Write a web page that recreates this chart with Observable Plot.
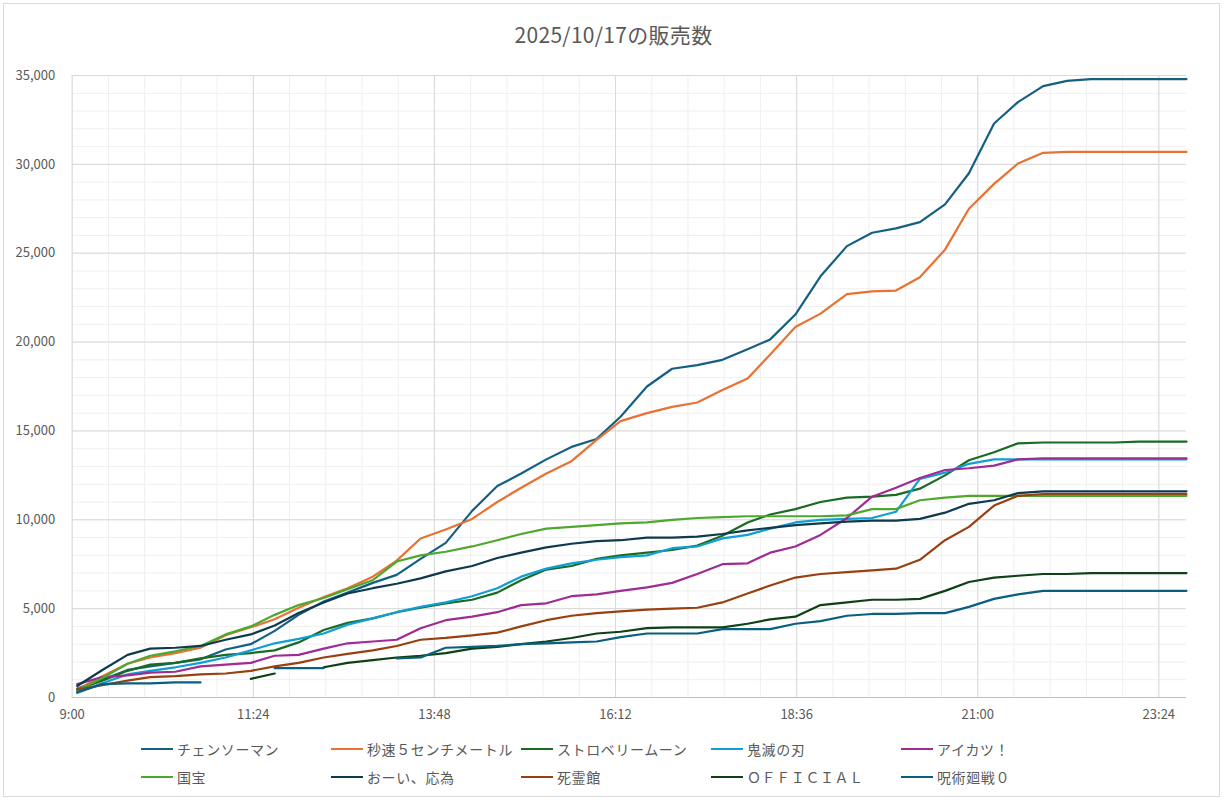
<!DOCTYPE html>
<html>
<head>
<meta charset="utf-8">
<script src="https://cdn.jsdelivr.net/npm/d3@7"></script>
<script src="https://cdn.jsdelivr.net/npm/@observablehq/plot@0.6"></script>
<style>
  body { margin: 0; background: #fff; font-family: "Noto Sans CJK JP", "Noto Sans", sans-serif; }
  #frame { position: relative; width: 1227px; height: 808px; overflow: hidden; background: #fff; }
  #border { position: absolute; left: 3px; top: 3px; width: 1217px; height: 794px; border: 1px solid #d9d9d9; box-sizing: border-box; }
  #title { position: absolute; left: 0; top: 19px; width: 1227px; text-align: center; font-size: 21px; color: #595959; line-height: 30px; letter-spacing: 0.3px; }
  #chart { position: absolute; left: 0; top: 55px; }
  .leg { position: absolute; display: flex; align-items: center; font-size: 14px; color: #595959; white-space: nowrap; height: 20px; letter-spacing: 0.6px; }
  .leg .sw { width: 32px; height: 2px; margin-right: 4px; }
</style>
</head>
<body>
<div id="frame">
  <div id="border"></div>
  <div id="title">2025/10/17の販売数</div>
  <div id="chart"></div>
  <div id="legend"></div>
</div>
<script>
// ---- data ----
const times = ["9:04","9:24","9:44","10:02","10:22","10:42","11:02","11:22","11:41","12:00",
  "12:20","12:39","12:59","13:18","13:37","13:57","14:18","14:38","14:57","15:17",
  "15:37","15:57","16:16","16:37","16:57","17:17","17:37","17:57","18:15","18:35",
  "18:55","19:16","19:36","19:55","20:14","20:34","20:53","21:13","21:32","21:52",
  "22:11","22:30","22:49","23:08","23:27","23:46"];

const seriesNames = ["チェンソーマン","秒速５センチメートル","ストロベリームーン","鬼滅の刃","アイカツ！",
  "国宝","おーい、応為","死霊館","ＯＦＦＩＣＩＡＬ","呪術廻戦０"];

const seriesColors = ["#156082","#E97132","#196B24","#0F9ED5","#A02B93",
  "#4EA72E","#0D3A4E","#994010","#0F4016","#095F80"];

const chainsaw = [500,1000,1550,1750,1950,2150,2700,3000,3750,4650,5400,5900,6450,6900,7800,8700,10500,11900,12600,13400,14100,14550,15800,17500,18500,18700,19000,19600,20150,21550,23700,25400,26150,26400,26750,27750,29500,32300,33500,34400,34700,34800,34800,34800,34800,34800];
const byosoku = [450,1200,1900,2250,2500,2800,3500,3950,4400,5050,5650,6150,6800,7700,8950,9450,10050,11000,11800,12600,13300,14500,15550,16000,16350,16600,17300,17950,19300,20850,21600,22700,22850,22900,23650,25200,27500,28900,30050,30650,30700,30700,30700,30700,30700,30700];
const strawberry = [450,950,1500,1850,1950,2200,2400,2500,2650,3100,3800,4200,4450,4800,5050,5300,5500,5900,6600,7200,7400,7800,8000,8150,8300,8550,9100,9850,10300,10600,11000,11250,11300,11400,11750,12500,13350,13800,14300,14350,14350,14350,14350,14400,14400,14400];
const kimetsu = [250,800,1300,1500,1700,1950,2250,2650,3050,3300,3600,4100,4450,4800,5100,5350,5700,6150,6800,7250,7550,7750,7900,8000,8400,8500,8950,9150,9500,9850,10000,10050,10100,10450,12300,12650,13150,13400,13400,13400,13400,13400,13400,13400,13400,13400];
const aikatsu = [750,1150,1250,1400,1450,1750,1850,1950,2350,2400,2750,3050,3150,3250,3900,4350,4550,4800,5200,5300,5700,5800,6000,6200,6450,6950,7500,7550,8150,8500,9150,10100,11300,11800,12350,12800,12900,13050,13400,13450,13450,13450,13450,13450,13450,13450];
const kokuho = [400,1100,1900,2350,2600,2900,3550,4000,4650,5200,5600,6100,6600,7650,8000,8200,8500,8850,9200,9500,9600,9700,9800,9850,10000,10100,10150,10200,10200,10200,10200,10250,10600,10600,11100,11250,11350,11350,11350,11350,11350,11350,11350,11350,11350,11350];
const oi = [650,1550,2400,2750,2800,2900,3250,3550,4050,4750,5350,5850,6150,6400,6700,7100,7400,7850,8150,8450,8650,8800,8850,9000,9000,9050,9200,9400,9550,9700,9800,9900,9950,9950,10050,10400,10900,11100,11500,11600,11600,11600,11600,11600,11600,11600];
const shiryokan = [450,700,950,1150,1200,1300,1350,1500,1750,1950,2250,2450,2650,2900,3250,3350,3500,3650,4000,4350,4600,4750,4850,4950,5000,5050,5350,5850,6300,6750,6950,7050,7150,7250,7750,8850,9600,10800,11350,11450,11450,11450,11450,11450,11450,11450];
const official = [null,null,null,null,null,null,null,1050,1350,null,1700,1950,2100,2250,2350,2500,2750,2850,3000,3150,3350,3600,3700,3900,3950,3950,3950,4150,4400,4550,5200,5350,5500,5500,5550,6000,6500,6750,6850,6950,6950,7000,7000,7000,7000,7000];
const jujutsu = [300,750,800,800,850,850,null,null,1650,1650,1650,null,null,2200,2250,2800,2850,2900,3000,3050,3100,3150,3400,3600,3600,3600,3850,3850,3850,4150,4300,4600,4700,4700,4750,4750,5100,5550,5800,6000,6000,6000,6000,6000,6000,6000];

const seriesValues = [chainsaw, byosoku, strawberry, kimetsu, aikatsu, kokuho, oi, shiryokan, official, jujutsu];

const xTickValues = [540, 684, 828, 972, 1116, 1260, 1404];
const xTickLabels = ["9:00","11:24","13:48","16:12","18:36","21:00","23:24"];
const yTicks = [0,5000,10000,15000,20000,25000,30000,35000];
const yTickLabels = ["0","5,000","10,000","15,000","20,000","25,000","30,000","35,000"];

// ---- build ----
const toMin = s => { const [h, m] = s.split(":").map(Number); return h * 60 + m; };
const tMin = times.map(toMin);

const xDomain = [540, 1426];
const minorX = d3.range(540, xDomain[1] + 0.01, 28.8);
const minorY = d3.range(0, 35001, 1000);

const lineMarks = seriesValues.map((vals, k) =>
  Plot.line(vals.map((v, i) => ({t: tMin[i], v: v})), {
    x: "t", y: "v", stroke: seriesColors[k], strokeWidth: 2.2,
    strokeLinejoin: "round", strokeLinecap: "round"
  })
);

const chart = Plot.plot({
  width: 1227,
  height: 672,
  marginLeft: 71.7,
  marginRight: 41,
  marginTop: 20,
  marginBottom: 30,
  x: {type: "linear", domain: xDomain},
  y: {type: "linear", domain: [0, 35000]},
  style: {fontFamily: "'Noto Sans CJK JP', 'Noto Sans', sans-serif", fontSize: "13px", color: "#595959", background: "transparent"},
  marks: [
    Plot.ruleY(minorY, {stroke: "#efefef", strokeWidth: 1}),
    Plot.ruleX(minorX, {stroke: "#efefef", strokeWidth: 1}),
    Plot.ruleY(yTicks, {stroke: "#d9d9d9", strokeWidth: 1}),
    Plot.ruleX(xTickValues, {stroke: "#d9d9d9", strokeWidth: 1}),
    Plot.ruleY([0], {stroke: "#bfbfbf", strokeWidth: 1}),
    Plot.axisX({ticks: xTickValues, tickSize: 0, tickPadding: 12,
      tickFormat: d => xTickLabels[xTickValues.indexOf(d)], label: null, fill: "#595959"}),
    Plot.axisY({ticks: yTicks, tickSize: 0, tickPadding: 17,
      tickFormat: d => yTickLabels[yTicks.indexOf(d)], label: null, fill: "#595959"}),
    ...lineMarks
  ]
});
document.getElementById("chart").appendChild(chart);

// ---- legend ----
const legend = document.getElementById("legend");
const colX = [141, 331, 521, 711, 901];
const rowY = [739, 767];
seriesNames.forEach((name, k) => {
  const item = document.createElement("div");
  item.className = "leg";
  item.style.left = colX[k % 5] + "px";
  item.style.top = rowY[Math.floor(k / 5)] + "px";
  const sw = document.createElement("div");
  sw.className = "sw";
  sw.style.background = seriesColors[k];
  const tx = document.createElement("span");
  tx.textContent = name;
  item.appendChild(sw);
  item.appendChild(tx);
  legend.appendChild(item);
});
</script>
</body>
</html>
